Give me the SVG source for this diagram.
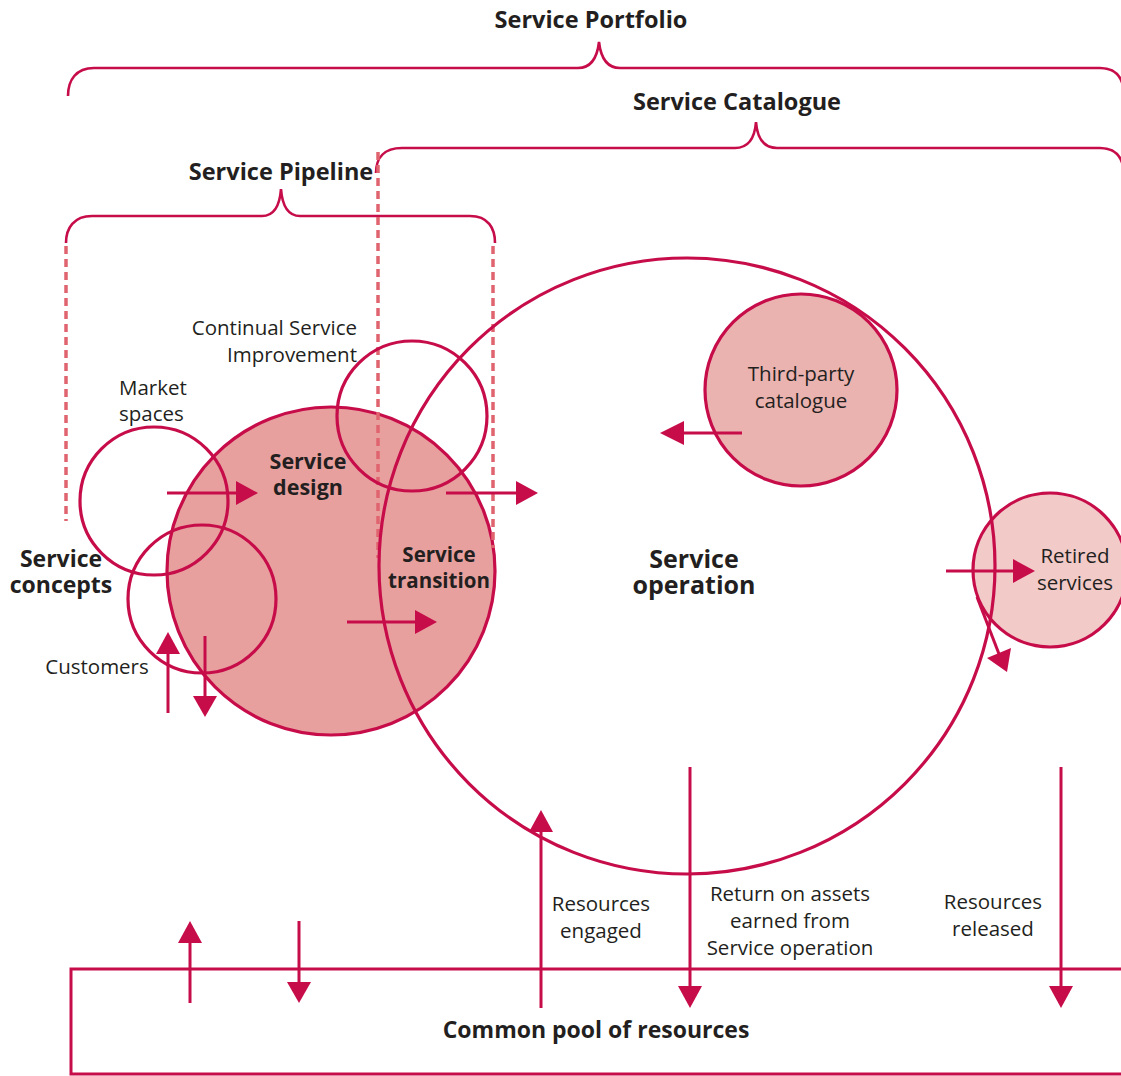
<svg xmlns="http://www.w3.org/2000/svg" width="1121" height="1076" viewBox="0 0 1121 1076">
<defs>
<style>
.br{fill:none;stroke:#c70c4a;stroke-width:2.6}
.ds{fill:none;stroke:#e0646f;stroke-width:3.5;stroke-dasharray:8 5}
.cw{fill:none;stroke:#c70c4a;stroke-width:3.2}
.b{font-family:"Open Sans","Noto Sans",sans-serif;font-weight:bold;fill:#231f20;text-anchor:middle}
.r{font-family:"Open Sans","Noto Sans",sans-serif;fill:#231f20;text-anchor:middle;font-size:20.5px}
.ar{stroke:#c70c4a;stroke-width:3;fill:none}
.hd{fill:#c70c4a;stroke:none}
</style>
</defs>
<rect width="1121" height="1076" fill="#ffffff"/>

<g id="braces">
<path class="br" d="M68,96 C68,80 76,68 94,68 L578,68 Q596,68 599,42 Q602,68 620,68 L1100,68 Q1119,68 1123,86"/>
<path class="br" d="M376,173 C376,158 384,148 402,148 L735,148 Q754,148 756,122 Q758,148 777,148 L1100,148 Q1119,148 1123,166"/>
<path class="br" d="M66,243 C66,228 74,216 92,216 L262,216 Q279,216 281,189 Q283,216 300,216 L470,216 C488,216 495,228 495,243"/>
<text class="b" x="591" y="28" font-size="23.5">Service Portfolio</text>
<text class="b" x="737" y="110" font-size="23.5">Service Catalogue</text>
<text class="b" x="281" y="180" font-size="23.5">Service Pipeline</text>
</g>

<g id="service-design">
<circle cx="331" cy="571" r="164" fill="#e8a09e" stroke="#c70c4a" stroke-width="3.2"/>
<text class="b" font-size="21.5"><tspan x="308" y="469">Service</tspan><tspan x="308" y="495">design</tspan></text>
</g>

<g id="dashed">
<line class="ds" x1="66" y1="246" x2="66" y2="521"/>
<line class="ds" x1="378" y1="152" x2="378" y2="558"/>
<line class="ds" x1="493" y1="246" x2="493" y2="548"/>
</g>

<g id="market-spaces">
<circle class="cw" cx="154" cy="501" r="74"/>
<text class="r" style="text-anchor:start"><tspan x="119" y="395">Market</tspan><tspan x="119" y="421">spaces</tspan></text>
</g>

<g id="customers">
<circle class="cw" cx="202" cy="599" r="74"/>
<text class="r" x="97" y="674">Customers</text>
</g>

<g id="service-concepts">
<text class="b" font-size="23"><tspan x="61" y="567">Service</tspan><tspan x="61" y="593">concepts</tspan></text>
</g>

<g id="csi">
<circle class="cw" cx="412" cy="416" r="75"/>
<text class="r" style="text-anchor:end"><tspan x="357" y="335">Continual Service</tspan><tspan x="357" y="362">Improvement</tspan></text>
</g>

<g id="service-transition">
<text class="b" font-size="20.5"><tspan x="439" y="562">Service</tspan><tspan x="439" y="588">transition</tspan></text>
</g>

<g id="retired-services">
<circle cx="1050" cy="570" r="77" fill="#f2cac8" stroke="#c70c4a" stroke-width="3.2"/>
<text class="r"><tspan x="1075" y="563">Retired</tspan><tspan x="1075" y="590">services</tspan></text>
</g>

<g id="service-operation">
<circle class="cw" cx="687" cy="566" r="308"/>
<text class="b" font-size="25"><tspan x="694" y="568">Service</tspan><tspan x="694" y="594">operation</tspan></text>
</g>

<g id="third-party-catalogue">
<circle cx="801" cy="390" r="96" fill="#ebb3b0" stroke="#c70c4a" stroke-width="3.2"/>
<text class="r"><tspan x="801" y="381">Third-party</tspan><tspan x="801" y="408">catalogue</tspan></text>
</g>

<g id="common-pool">
<path d="M1121,969 L71,969 L71,1074 L1121,1074" fill="none" stroke="#c70c4a" stroke-width="3"/>
<text class="b" x="596" y="1038" font-size="23">Common pool of resources</text>
</g>

<g id="flow-labels">
<text class="r"><tspan x="601" y="911">Resources</tspan><tspan x="601" y="938">engaged</tspan></text>
<text class="r"><tspan x="790" y="901">Return on assets</tspan><tspan x="790" y="928">earned from</tspan><tspan x="790" y="955">Service operation</tspan></text>
<text class="r"><tspan x="993" y="909">Resources</tspan><tspan x="993" y="936">released</tspan></text>
</g>

<g id="connectors">
<line class="ar" x1="167" y1="493" x2="238" y2="493"/><path class="hd" d="M236,481 L258,493 L236,505 Z"/>
<line class="ar" x1="446" y1="493" x2="518" y2="493"/><path class="hd" d="M516,481 L538,493 L516,505 Z"/>
<line class="ar" x1="347" y1="622" x2="417" y2="622"/><path class="hd" d="M415,610 L437,622 L415,634 Z"/>
<line class="ar" x1="742" y1="433" x2="682" y2="433"/><path class="hd" d="M684,421 L660,433 L684,445 Z"/>
<line class="ar" x1="946" y1="571" x2="1015" y2="571"/><path class="hd" d="M1013,559 L1035,571 L1013,583 Z"/>
<line class="ar" x1="977" y1="597" x2="999" y2="654"/><path class="hd" d="M987,658 L1011,648 L1007,672 Z"/>
<line class="ar" x1="168" y1="713" x2="168" y2="652"/><path class="hd" d="M156,654 L168,632 L180,654 Z"/>
<line class="ar" x1="205" y1="636" x2="205" y2="698"/><path class="hd" d="M193,696 L205,717 L217,696 Z"/>
<line class="ar" x1="190" y1="1003" x2="190" y2="941"/><path class="hd" d="M178,943 L190,921 L202,943 Z"/>
<line class="ar" x1="299" y1="921" x2="299" y2="984"/><path class="hd" d="M287,982 L299,1003 L311,982 Z"/>
<line class="ar" x1="541" y1="1008" x2="541" y2="830"/><path class="hd" d="M529,832 L541,810 L553,832 Z"/>
<line class="ar" x1="690" y1="767" x2="690" y2="988"/><path class="hd" d="M678,986 L690,1008 L702,986 Z"/>
<line class="ar" x1="1061" y1="767" x2="1061" y2="988"/><path class="hd" d="M1049,986 L1061,1008 L1073,986 Z"/>
</g>
</svg>
